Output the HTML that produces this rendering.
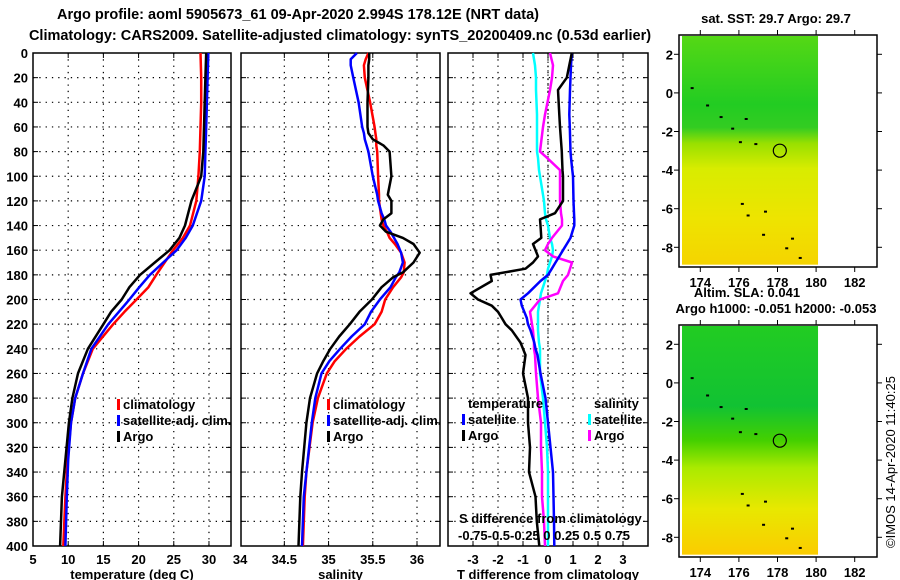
<!DOCTYPE html>
<html><head><meta charset="utf-8">
<style>
body{margin:0;background:#fff;}
svg{display:block;font-family:"Liberation Sans",sans-serif;font-weight:bold;}
text{fill:#000;}
</style></head>
<body>
<svg id="fig" width="900" height="580" viewBox="0 0 900 580" xmlns="http://www.w3.org/2000/svg">
<defs>
<linearGradient id="g1" x1="0" y1="0" x2="0" y2="1">
<stop offset="0" stop-color="#55d815"/><stop offset="0.3" stop-color="#22cc22"/><stop offset="0.4" stop-color="#33cc22"/>
<stop offset="0.47" stop-color="#99e000"/><stop offset="0.58" stop-color="#d8ec00"/>
<stop offset="0.8" stop-color="#eee400"/><stop offset="1" stop-color="#f5d400"/>
</linearGradient>
<linearGradient id="g2" x1="0" y1="0" x2="0" y2="1">
<stop offset="0" stop-color="#22cc22"/><stop offset="0.35" stop-color="#11c233"/>
<stop offset="0.5" stop-color="#44d000"/><stop offset="0.62" stop-color="#aaea00"/>
<stop offset="0.8" stop-color="#e8e800"/><stop offset="1" stop-color="#fbcc00"/>
</linearGradient>
</defs>
<g font-size="14.5">
<text x="298" y="19" text-anchor="middle">Argo profile: aoml 5905673_61 09-Apr-2020 2.994S 178.12E (NRT data)</text>
<text x="340" y="40" text-anchor="middle">Climatology: CARS2009. Satellite-adjusted climatology: synTS_20200409.nc (0.53d earlier)</text>
</g>
<g id="plots"></g>
</svg>
<script>
// ---- data ----
const depthsT = [0,20,40,60,80,100,120,140,150,160,170,180,190,200,210,220,240,260,280,300,330,360,400];
const tempArgo = [29.6,29.5,29.4,29.3,29.2,28.9,27.5,26.6,25.8,24.4,22.3,20.2,18.7,17.6,16.1,15.0,12.8,11.4,10.6,10.1,9.6,9.1,8.85];
const tempClim = [28.8,28.9,28.9,28.8,28.7,28.5,28.2,27.3,26.3,24.9,23.7,22.5,21.4,19.7,18.0,16.4,13.5,12.1,11.0,10.4,9.9,9.6,9.3];
const tempSat  = [29.9,29.8,29.7,29.6,29.5,29.4,28.9,27.7,26.7,25.4,23.5,21.6,20.1,18.7,17.2,15.7,13.3,12.1,11.0,10.4,10.0,9.8,9.6];
const depthsS = [0,5,10,20,40,60,65,70,75,80,100,115,120,130,135,140,145,150,155,162,170,178,182,190,200,210,220,230,240,250,260,280,300,340,360,400];
const salArgo = [35.46,35.46,35.45,35.45,35.44,35.44,35.45,35.5,35.62,35.69,35.71,35.67,35.71,35.71,35.62,35.58,35.65,35.84,35.96,36.03,35.96,35.84,35.73,35.6,35.49,35.35,35.24,35.12,35.02,34.94,34.87,34.79,34.75,34.7,34.68,34.66];
const salClim = [35.45,35.42,35.40,35.41,35.47,35.52,35.53,35.54,35.54,35.55,35.56,35.57,35.57,35.59,35.6,35.62,35.66,35.69,35.75,35.82,35.86,35.85,35.82,35.73,35.64,35.6,35.52,35.35,35.2,35.07,34.98,34.88,34.82,34.75,34.73,34.71];
const salSat  = [35.32,35.25,35.25,35.28,35.34,35.38,35.4,35.41,35.43,35.45,35.5,35.55,35.56,35.6,35.63,35.65,35.7,35.74,35.78,35.82,35.84,35.8,35.76,35.7,35.58,35.48,35.41,35.26,35.13,35.01,34.92,34.85,34.81,34.75,34.72,34.7];
const depthsD = [0,10,20,30,50,60,80,85,95,100,120,130,135,140,150,155,160,165,170,175,180,185,195,200,205,210,215,220,225,235,240,245,260,280,300,320,340,360,380,400];
const tdiffSat  = [0.95,0.92,0.9,0.88,0.85,0.87,0.9,0.92,0.97,1.0,1.02,1.04,1.05,1.05,0.9,0.75,0.6,0.45,0.3,0.15,0,-0.3,-0.8,-1.1,-1.05,-0.95,-0.85,-0.8,-0.7,-0.55,-0.5,-0.42,-0.3,-0.1,0,0.1,0.2,0.22,0.24,0.25];
const tdiffArgo = [0.95,0.85,0.75,0.4,0.45,0.48,0.55,0.56,0.58,0.6,0.6,0.28,-0.32,-0.3,-0.27,-0.6,-0.5,-0.4,-0.6,-0.9,-2.3,-2.25,-3.1,-2.8,-2.25,-2.0,-1.85,-1.7,-1.45,-1.1,-1.0,-0.9,-1.0,-0.8,-0.8,-0.72,-0.76,-0.5,-0.45,-0.35];
const sdiffSat  = [-0.15,-0.13,-0.12,-0.12,-0.11,-0.11,-0.11,-0.1,-0.09,-0.08,-0.04,-0.03,-0.02,0,0.02,0.04,0.05,0.04,0.02,0,-0.01,-0.03,-0.07,-0.08,-0.09,-0.1,-0.1,-0.1,-0.1,-0.09,-0.08,-0.08,-0.08,-0.05,-0.03,-0.01,0,0,0,0];
const sdiffArgo = [0.02,0.05,0.04,0.02,-0.03,-0.05,-0.08,-0.01,0.12,0.12,0.12,0.13,0.14,0.14,0.04,0,-0.03,0.05,0.24,0.22,0.2,0.15,0.1,-0.08,-0.13,-0.18,-0.17,-0.16,-0.15,-0.14,-0.14,-0.13,-0.12,-0.1,-0.07,-0.07,-0.06,-0.06,-0.04,-0.03];
const depthTicks = [0,20,40,60,80,100,120,140,160,180,200,220,240,260,280,300,320,340,360,380,400];
const tempTicks = [5,10,15,20,25,30];
const salTicks = [34,34.5,35,35.5,36];
const diffTicks = [-3,-2,-1,0,1,2,3];
const lonTicks = [174,176,178,180,182];
const latTicksTop = [2,0,-2,-4,-6,-8];

const NS='http://www.w3.org/2000/svg';
const root=document.getElementById('plots');
function mk(tag,attrs,parent,txt){const e=document.createElementNS(NS,tag);for(const k in attrs)e.setAttribute(k,attrs[k]);if(txt!==undefined)e.textContent=txt;(parent||root).appendChild(e);return e;}
const Y0=53,Y1=546;
const yD=d=>Y0+(d/400)*(Y1-Y0);

function panel(name,x0,x1,xmin,xmax,gridVals,tickVals,tickLabels,xlabel){
  const g=mk('g',{});
  
  
  const sx=v=>x0+(v-xmin)/(xmax-xmin)*(x1-x0);
  depthTicks.forEach(d=>{ if(d>0&&d<400) mk('line',{x1:x0,x2:x1,y1:yD(d),y2:yD(d),stroke:'#000','stroke-width':1.2,'stroke-dasharray':'1.3 5'},g);
    mk('line',{x1:x0,x2:x0+5,y1:yD(d),y2:yD(d),stroke:'#000'},g); mk('line',{x1:x1-5,x2:x1,y1:yD(d),y2:yD(d),stroke:'#000'},g);});
  gridVals.forEach(v=>{mk('line',{x1:sx(v),x2:sx(v),y1:Y0,y2:Y1,stroke:'#000','stroke-width':1.2,'stroke-dasharray':'1.3 5'},g);
    mk('line',{x1:sx(v),x2:sx(v),y1:Y1-5,y2:Y1,stroke:'#000'},g);mk('line',{x1:sx(v),x2:sx(v),y1:Y0,y2:Y0+5,stroke:'#000'},g);});
  mk('rect',{x:x0,y:Y0,width:x1-x0,height:Y1-Y0,fill:'none',stroke:'#000','stroke-width':1.5},g);
  tickVals.forEach((v,i)=>{const t=mk('text',{x:sx(v),y:564,'text-anchor':'middle','font-size':13},g,tickLabels[i]);
    
    });
  const xl=mk('text',{x:(x0+x1)/2,y:579,'text-anchor':'middle','font-size':13},g,xlabel);
  
  
  return {g,sx};
}
function line(p,name,depths,vals,color,w){
  const pts=depths.map((d,i)=>p.sx(vals[i]).toFixed(1)+','+yD(d).toFixed(1)).join(' ');
  const l=mk('polyline',{points:pts,fill:'none',stroke:color,'stroke-width':w,'stroke-linejoin':'round'},p.g);
  
  
}
function legend(p,x,y,color,label,name){
  const m=mk('rect',{x:x,y:y-10,width:3,height:11,fill:color},p.g);
  
  
  const t=mk('text',{x:x+6,y:y,'font-size':13},p.g,label);
  
  
}
const ya=mk('g',{});


depthTicks.forEach(d=>mk('text',{x:28,y:yD(d)+5,'text-anchor':'end','font-size':13},ya,d));

const p1=panel('temperature-panel',33,231,5,33.13,[10,15,20,25,30],tempTicks,tempTicks.map(String),'temperature (deg C)');
line(p1,'temp-climatology-line',depthsT,tempClim,'#f00',2.5);
line(p1,'temp-satellite-line',depthsT,tempSat,'#00f',2.5);
line(p1,'temp-argo-line',depthsT,tempArgo,'#000',2.5);
legend(p1,117,409,'#f00','climatology','legend-climatology');
legend(p1,117,425,'#00f','satellite-adj. clim.','legend-satellite');
legend(p1,117,441,'#000','Argo','legend-argo');

const p2=panel('salinity-panel',241,440,34.01,36.26,[34.5,35,35.5,36],salTicks,salTicks.map(String),'salinity');
line(p2,'sal-climatology-line',depthsS,salClim,'#f00',2.5);
line(p2,'sal-satellite-line',depthsS,salSat,'#00f',2.5);
line(p2,'sal-argo-line',depthsS,salArgo,'#000',2.5);
legend(p2,327,409,'#f00','climatology','legend-climatology');
legend(p2,327,425,'#00f','satellite-adj. clim.','legend-satellite');
legend(p2,327,441,'#000','Argo','legend-argo');

const p3=panel('difference-panel',448,648,-4,4,diffTicks,diffTicks,diffTicks.map(String),'T difference from climatology');
const p3s={g:p3.g,sx:v=>548+v*100};
mk('line',{x1:548,x2:548,y1:Y0,y2:Y1,stroke:'#000','stroke-width':1.2,'stroke-dasharray':'1.3 3'},p3.g);
line(p3s,'sdiff-satellite-line',depthsD,sdiffSat,'#0ff',2.5);
line(p3s,'sdiff-argo-line',depthsD,sdiffArgo,'#f0f',2.5);
line(p3,'tdiff-satellite-line',depthsD,tdiffSat,'#00f',2.5);
line(p3,'tdiff-argo-line',depthsD,tdiffArgo,'#000',2.5);
const th=mk('text',{x:468,y:408,'font-size':13},p3.g,'temperature');


const sh=mk('text',{x:594,y:408,'font-size':13},p3.g,'salinity');


legend(p3,462,424,'#00f','satellite','legend-t-satellite');
legend(p3,462,440,'#000','Argo','legend-t-argo');
legend(p3,588,424,'#0ff','satellite','legend-s-satellite');
legend(p3,588,440,'#f0f','Argo','legend-s-argo');
const st=mk('text',{x:459,y:523,'font-size':13},p3.g,'S difference from climatology');


const sl=mk('text',{x:458,y:540,'font-size':13},p3.g,'-0.75-0.5-0.25 0  0.25 0.5 0.75');


sl.setAttribute('xml:space','preserve');

function map(name,top,grad){
  const g=mk('g',{});
  
  
  const lx=lon=>681+(lon-173)*19.3, ly=lat=>top+(3-lat)*19.3;
  mk('rect',{x:682,y:top+1,width:lx(180.1)-682,height:ly(-8.9)-top-1,fill:'url(#'+grad+')'},g);
  mk('rect',{x:679,y:top,width:198,height:232,fill:'none',stroke:'#000','stroke-width':1.5},g);
  lonTicks.forEach(v=>{mk('line',{x1:lx(v),x2:lx(v),y1:top,y2:top-5,stroke:'#000'},g);mk('line',{x1:lx(v),x2:lx(v),y1:top+232,y2:top+237,stroke:'#000'},g);
    mk('text',{x:lx(v),y:top+252,'text-anchor':'middle','font-size':13},g,v);});
  latTicksTop.forEach(v=>{mk('line',{x1:877,x2:882,y1:ly(v),y2:ly(v),stroke:'#000'},g);mk('line',{x1:674,x2:679,y1:ly(v),y2:ly(v),stroke:'#000'},g);
    mk('text',{x:673,y:ly(v)+5,'text-anchor':'end','font-size':13},g,v);});
  [[173.5,0.3],[174.3,-0.6],[175,-1.2],[175.6,-1.8],[176,-2.5],[176.8,-2.6],[176.3,-1.3],[176.1,-5.7],[176.4,-6.3],[177.2,-7.3],[178.4,-8],[179.1,-8.5],[178.7,-7.5],[177.3,-6.1]].forEach(p=>mk('rect',{x:lx(p[0]),y:ly(p[1]),width:3,height:2,fill:'#000'},g));
  const c=mk('circle',{cx:lx(178.12),cy:ly(-2.994),r:6.5,fill:'none',stroke:'#000','stroke-width':1.2},g);
  
  
  return g;
}
const m1=map('sst-map',35,'g1');
const t1=mk('text',{x:776,y:23,'text-anchor':'middle','font-size':13},m1,'sat. SST: 29.7 Argo: 29.7');


const m2=map('sla-map',325,'g2');
const t2=mk('text',{x:747,y:297,'text-anchor':'middle','font-size':13},m2,'Altim. SLA: 0.041');


const t3=mk('text',{x:776,y:313,'text-anchor':'middle','font-size':13},m2,'Argo h1000: -0.051 h2000: -0.053');


const cr=mk('text',{x:0,y:0,'font-size':13,'font-weight':'normal',transform:'translate(895,548) rotate(-90)'},root,'©IMOS 14-Apr-2020 11:40:25');


</script>
</body></html>
